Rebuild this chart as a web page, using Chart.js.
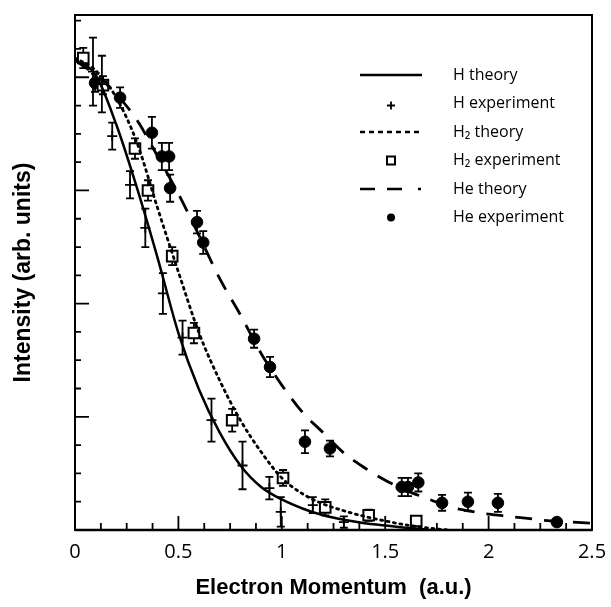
<!DOCTYPE html>
<html>
<head>
<meta charset="utf-8">
<script src="https://cdn.jsdelivr.net/npm/chart.js@4.4.0/dist/chart.umd.min.js"></script>
<style>
html, body { margin: 0; padding: 0; background: #fff; }
#chartDiv { width: 611px; height: 607px; }
</style>
</head>
<body>
<div id="chartDiv"><canvas id="momChart" width="611" height="607"></canvas></div>
<script>
// momentum grid for the theory curves (a.u.)
var thX = [0, 0.1, 0.2, 0.3, 0.4, 0.5, 0.6, 0.7, 0.8, 0.9, 1.0, 1.1, 1.2,
           1.3, 1.4, 1.5, 1.6, 1.7, 1.8, 1.9, 2.0, 2.1, 2.2, 2.3, 2.4, 2.5];
var hTheory  = [4.15, 4.02, 3.58, 3.02, 2.40, 1.74, 1.24, 0.86, 0.57, 0.38, 0.27,
                0.19, 0.13, 0.09, 0.06, 0.04, 0.02, 0.005];
var h2Theory = [4.17, 4.06, 3.82, 3.42, 2.84, 2.28, 1.74, 1.32, 0.97, 0.69, 0.46,
                0.32, 0.23, 0.17, 0.12, 0.08, 0.045, 0.02, 0.0];
var heTheory = [4.15, 4.02, 3.85, 3.62, 3.30, 2.97, 2.60, 2.22, 1.90, 1.56, 1.28,
                1.04, 0.86, 0.68, 0.55, 0.44, 0.35, 0.28, 0.21, 0.17, 0.14, 0.12,
                0.10, 0.08, 0.07, 0.06];

// measured points
var hExpX   = [0.087, 0.13, 0.18, 0.266, 0.34, 0.425, 0.52, 0.66, 0.81, 0.94, 0.995, 1.15, 1.30];
var hExpY   = [4.05, 3.94, 3.48, 3.05, 2.67, 2.09, 1.70, 0.97, 0.57, 0.37, 0.16, 0.22, 0.07];
var hExpErr = [0.30, 0.25, 0.12, 0.12, 0.17, 0.18, 0.15, 0.19, 0.21, 0.10, 0.13, 0.07, 0.05];

var h2ExpX   = [0.04, 0.135, 0.29, 0.353, 0.47, 0.575, 0.76, 1.006, 1.21, 1.42, 1.65];
var h2ExpY   = [4.17, 3.93, 3.37, 3.00, 2.42, 1.74, 0.97, 0.46, 0.20, 0.13, 0.08];
var h2ExpErr = [0.09, 0.08, 0.09, 0.09, 0.08, 0.09, 0.10, 0.07, 0.07, 0.05, 0.04];

var heExpX   = [0.097, 0.218, 0.372, 0.42, 0.455, 0.46, 0.59, 0.62, 0.866, 0.943,
                1.112, 1.233, 1.58, 1.61, 1.66, 1.775, 1.90, 2.045, 2.33];
var heExpY   = [3.95, 3.82, 3.51, 3.30, 3.30, 3.02, 2.72, 2.54, 1.69, 1.44,
                0.78, 0.72, 0.38, 0.38, 0.42, 0.24, 0.25, 0.24, 0.07];
var heExpErr = [0.08, 0.09, 0.14, 0.12, 0.12, 0.12, 0.10, 0.10, 0.08, 0.09,
                0.10, 0.07, 0.08, 0.08, 0.08, 0.07, 0.08, 0.08, 0];

var xTickLabels = ['0', '0.5', '1', '1.5', '2', '2.5'];
var legendLabels = ['H theory', 'H experiment', 'H\u2082 theory', 'H\u2082 experiment',
                    'He theory', 'He experiment'];

function pairs(xs, ys) {
  var out = [];
  for (var i = 0; i < ys.length; i++) out.push({x: xs[i], y: ys[i]});
  return out;
}

// vertical error bars with caps, under the markers
var errorBars = {
  id: 'errorBars',
  beforeDatasetsDraw: function(chart) {
    var ctx = chart.ctx, xs = chart.scales.x, ys = chart.scales.y;
    chart.data.datasets.forEach(function(ds) {
      if (!ds.errors) return;
      ctx.save();
      ctx.strokeStyle = '#000';
      ctx.lineWidth = 1.8;
      ds.data.forEach(function(p, i) {
        var e = ds.errors[i];
        if (!e) return;
        var px = xs.getPixelForValue(p.x);
        var top = ys.getPixelForValue(p.y + e);
        var bot = ys.getPixelForValue(Math.max(p.y - e, 0));
        ctx.beginPath();
        ctx.moveTo(px, top); ctx.lineTo(px, bot);
        ctx.moveTo(px - 4, top); ctx.lineTo(px + 4, top);
        ctx.moveTo(px - 4, bot); ctx.lineTo(px + 4, bot);
        ctx.stroke();
      });
      ctx.restore();
    });
  }
};

// box frame with inward tick marks, plus the key in the upper right
var frameAndKey = {
  id: 'frameAndKey',
  afterDraw: function(chart) {
    var ctx = chart.ctx, a = chart.chartArea;
    var xs = chart.scales.x, ys = chart.scales.y;
    ctx.save();
    ctx.strokeStyle = '#000';
    ctx.lineWidth = 2;
    ctx.strokeRect(a.left, a.top, a.right - a.left, a.bottom - a.top);
    ctx.lineWidth = 2.6;
    ctx.beginPath(); ctx.moveTo(a.left, a.bottom); ctx.lineTo(a.right, a.bottom); ctx.stroke();

    ctx.lineWidth = 1.8;
    ctx.beginPath();
    for (var k = 1; k < 20; k++) {
      var v = k * 0.125;
      var px = xs.getPixelForValue(v);
      var len = (k % 4 === 0) ? 14 : 7;
      ctx.moveTo(px, a.bottom); ctx.lineTo(px, a.bottom - len);
    }
    for (var j = 1; j * 0.25 < 4.55; j++) {
      var py = ys.getPixelForValue(j * 0.25);
      var ln = (j % 4 === 0) ? 14 : 6;
      ctx.moveTo(a.left, py); ctx.lineTo(a.left + ln, py);
    }
    ctx.stroke();

    // key
    var sx0 = a.left + 285, sx1 = a.left + 347, tx = a.left + 378;
    var ky = a.top + 60, step = 28.5;
    ctx.fillStyle = '#000';
    ctx.font = '16px "Open Sans"';
    ctx.textBaseline = 'middle';
    legendLabels.forEach(function(lab, i) {
      var y = ky + i * step;
      var cx = (sx0 + sx1) / 2;
      ctx.save();
      ctx.lineWidth = 2.5;
      if (i === 0) {
        ctx.beginPath(); ctx.moveTo(sx0, y); ctx.lineTo(sx1, y); ctx.stroke();
      } else if (i === 1) {
        ctx.lineWidth = 1.8;
        ctx.beginPath();
        ctx.moveTo(cx - 4, y + 2); ctx.lineTo(cx + 4, y + 2);
        ctx.moveTo(cx, y - 2); ctx.lineTo(cx, y + 6);
        ctx.stroke();
      } else if (i === 2) {
        ctx.setLineDash([5, 4]);
        ctx.beginPath(); ctx.moveTo(sx0, y); ctx.lineTo(sx1, y); ctx.stroke();
      } else if (i === 3) {
        ctx.lineWidth = 2;
        ctx.strokeRect(cx - 4, y - 4, 8, 8);
      } else if (i === 4) {
        ctx.setLineDash([15, 12, 15, 16, 3, 100]);
        ctx.beginPath(); ctx.moveTo(sx0, y); ctx.lineTo(sx1, y); ctx.stroke();
      } else {
        ctx.beginPath(); ctx.arc(cx, y, 4, 0, Math.PI * 2); ctx.fill();
      }
      ctx.restore();
      ctx.fillText(lab, tx, y);
    });
    ctx.restore();
  }
};

function lineChart() {
  var ctx = document.getElementById('momChart').getContext('2d');
  var myChart = new Chart(ctx, {
    type: 'scatter',
    data: {
      datasets: [
        {
          label: 'H theory', type: 'line', data: pairs(thX, hTheory),
          borderColor: '#000', borderWidth: 2.5, pointRadius: 0,
          cubicInterpolationMode: 'monotone', fill: false
        },
        {
          label: 'H2 theory', type: 'line', data: pairs(thX, h2Theory),
          borderColor: '#000', borderWidth: 2.8, borderDash: [2, 4.5], borderCapStyle: 'round',
          pointRadius: 0, cubicInterpolationMode: 'monotone', fill: false
        },
        {
          label: 'He theory', type: 'line', data: pairs(thX, heTheory),
          borderColor: '#000', borderWidth: 2.8, borderDash: [17, 12],
          pointRadius: 0, cubicInterpolationMode: 'monotone', fill: false
        },
        {
          label: 'H experiment', data: pairs(hExpX, hExpY), errors: hExpErr,
          pointStyle: 'cross', pointRadius: 5, borderColor: '#000', borderWidth: 1.8,
          backgroundColor: '#000'
        },
        {
          label: 'H2 experiment', data: pairs(h2ExpX, h2ExpY), errors: h2ExpErr,
          pointStyle: 'rect', pointRadius: 7.5, borderColor: '#000', borderWidth: 2,
          backgroundColor: '#fff'
        },
        {
          label: 'He experiment', data: pairs(heExpX, heExpY), errors: heExpErr,
          pointStyle: 'circle', pointRadius: 5.8, borderColor: '#000', borderWidth: 1,
          backgroundColor: '#000'
        }
      ]
    },
    options: {
      responsive: false,
      animation: false,
      layout: { padding: { top: 15, right: 19, left: 0, bottom: 0 } },
      plugins: { legend: { display: false }, tooltip: { enabled: false } },
      scales: {
        x: {
          type: 'linear', min: 0, max: 2.5,
          grid: { display: false }, border: { display: false },
          afterFit: function(s) { s.height = 77; },
          ticks: {
            stepSize: 0.5, color: '#000', padding: 2,
            font: { family: '"Open Sans"', size: 20 },
            callback: function(v, i) { return xTickLabels[i]; }
          },
          title: {
            display: true, text: 'Electron Momentum  (a.u.)', color: '#000',
            font: { family: '"Liberation Sans"', size: 22, weight: 'bold' },
            padding: { top: 0, bottom: 6 }
          }
        },
        y: {
          type: 'linear', min: 0, max: 4.55,
          grid: { display: false }, border: { display: false },
          afterFit: function(s) { s.width = 75; },
          ticks: { display: false },
          title: {
            display: true, text: 'Intensity (arb. units)', color: '#000',
            font: { family: '"Liberation Sans"', size: 23, weight: 'bold' },
            padding: { top: 10, bottom: 0 }
          }
        }
      }
    },
    plugins: [errorBars, frameAndKey]
  });
}

lineChart();
</script>
</body>
</html>
